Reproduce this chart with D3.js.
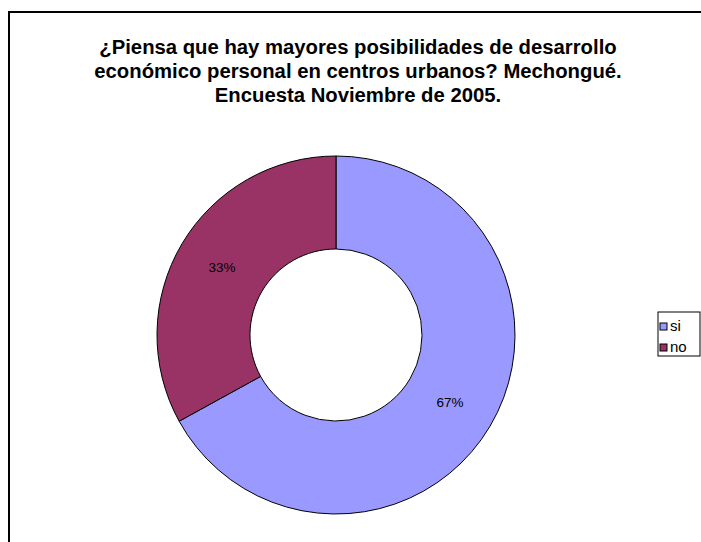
<!DOCTYPE html>
<html lang="es">
<head>
<meta charset="UTF-8">
<title>Mechongué - Encuesta Noviembre 2005</title>
<script src="https://d3js.org/d3.v7.min.js"></script>
<style>
    body { margin: 0; background: #fff; }
    svg text { font-family: "Liberation Sans", Arial, sans-serif; }
</style>
</head>
<body>
<svg id="chart" width="701" height="542"></svg>
<script>
    // data
    const categories = ["si", "no"];
    const values = [67, 33];
    const colors = ["#9999FF", "#993366"];
    const titleLines = [
        "¿Piensa que hay mayores posibilidades de desarrollo",
        "económico personal en centros urbanos? Mechongué.",
        "Encuesta Noviembre de 2005."
    ];

    const svg = d3.select("#chart");

    // outer frame (runs off the right and bottom edge)
    svg.append("rect")
        .attr("x", 9).attr("y", 12)
        .attr("width", 720).attr("height", 560)
        .attr("fill", "none")
        .attr("stroke", "#000")
        .attr("stroke-width", 2);

    // title
    svg.append("g").selectAll("text")
        .data(titleLines)
        .join("text")
        .attr("x", 358)
        .attr("y", (d, i) => 54 + i * 24)
        .attr("text-anchor", "middle")
        .attr("font-size", 20.3)
        .attr("font-weight", "bold")
        .text(d => d);

    // donut
    const cx = 336, cy = 335, outerR = 179, innerR = 86;
    const pie = d3.pie().sort(null).value(d => d.value);
    const arc = d3.arc().innerRadius(innerR).outerRadius(outerR);
    const data = categories.map((c, i) => ({ name: c, value: values[i], color: colors[i] }));
    const total = d3.sum(values);

    const g = svg.append("g").attr("transform", `translate(${cx},${cy})`);
    const arcs = pie(data);

    g.selectAll("path")
        .data(arcs)
        .join("path")
        .attr("d", arc)
        .attr("fill", d => d.data.color)
        .attr("stroke", "#000")
        .attr("stroke-width", 1);

    g.selectAll("text.pct")
        .data(arcs)
        .join("text")
        .attr("class", "pct")
        .attr("transform", d => `translate(${arc.centroid(d)})`)
        .attr("text-anchor", "middle")
        .attr("dy", "0.35em")
        .attr("font-size", 13.5)
        .text(d => Math.round(d.data.value / total * 100) + "%");

    // legend
    const legend = svg.append("g").attr("transform", "translate(658,312)");
    legend.append("rect")
        .attr("width", 42).attr("height", 44)
        .attr("fill", "#fff")
        .attr("stroke", "#000")
        .attr("stroke-width", 1);

    const items = legend.selectAll("g.item")
        .data(data)
        .join("g")
        .attr("class", "item")
        .attr("transform", (d, i) => `translate(2,${11 + i * 21})`);

    items.append("rect")
        .attr("width", 7).attr("height", 7)
        .attr("fill", d => d.color)
        .attr("stroke", "#000")
        .attr("stroke-width", 1);

    items.append("text")
        .attr("x", 10)
        .attr("y", 7.5)
        .attr("font-size", 15)
        .text(d => d.name);
</script>
</body>
</html>
